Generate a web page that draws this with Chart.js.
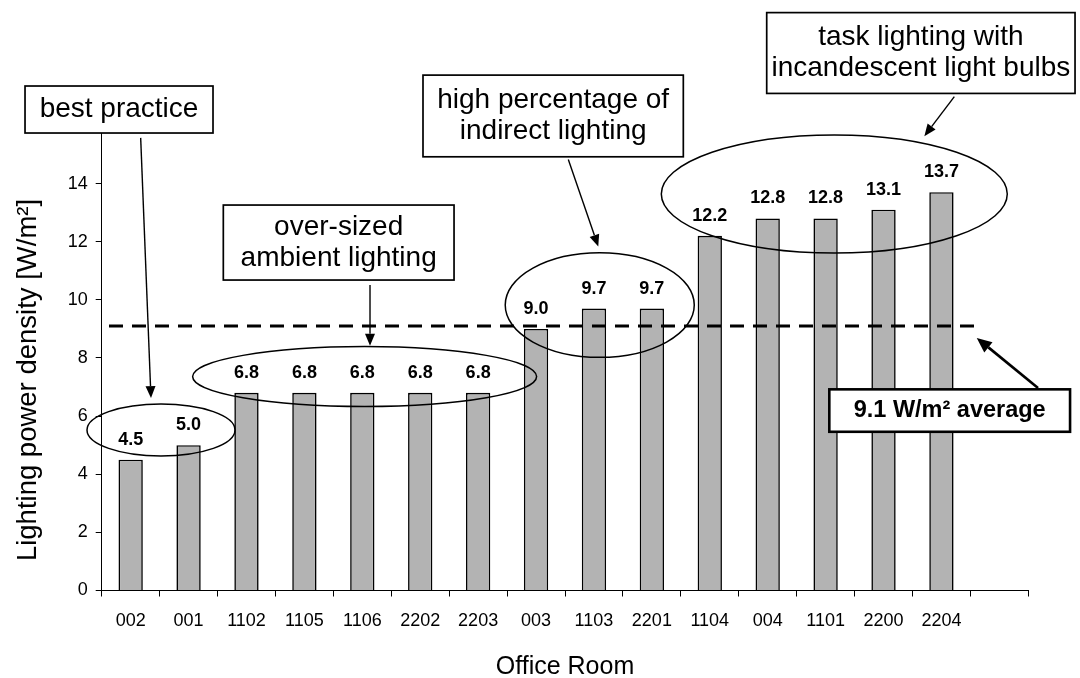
<!DOCTYPE html>
<html>
<head>
<meta charset="utf-8">
<title>Lighting power density by office room</title>
<style>
  html, body { margin: 0; padding: 0; background: #fff; }
  #wrap { width: 1080px; height: 678px; position: relative; }
</style>
<script src="https://cdn.jsdelivr.net/npm/chart.js@4.4.1/dist/chart.umd.min.js"></script>
</head>
<body>
<div id="wrap"><canvas id="chart"></canvas></div>
<script>
// Office rooms (the last slot is left empty on purpose, as on the printed axis)
const rooms = ['002', '001', '1102', '1105', '1106', '2202', '2203', '003', '1103', '2201', '1104', '004', '1101', '2200', '2204', ''];
// Lighting power density per room [W/m²]
const density = [4.5, 5.0, 6.8, 6.8, 6.8, 6.8, 6.8, 9.0, 9.7, 9.7, 12.2, 12.8, 12.8, 13.1, 13.7, null];
// Average over all rooms [W/m²]
const averageDensity = 9.1;
// Value-axis ticks
const yTicks = [0, 2, 4, 6, 8, 10, 12, 14, 16];

const FONT = '"Liberation Sans", Arial, Helvetica, sans-serif';

// Callout geometry in axis units: x = category index, y = W/m²
const groupRings = [
  { cx: 0.524, cy: 5.52, rx: 1.278, ry: 0.894 },
  { cx: 4.04,  cy: 7.36, rx: 2.97,  ry: 1.03 },
  { cx: 8.10,  cy: 9.82, rx: 1.632, ry: 1.80 },
  { cx: 12.15, cy: 13.64, rx: 2.987, ry: 2.03 }
];
const callouts = [
  { lines: ['best practice'], box: [-1.824, 17.355, 1.422, 15.738], arrow: [0.173, 15.57, 0.351, 6.62] },
  { lines: ['over-sized', 'ambient lighting'], box: [1.600, 13.26, 5.584, 10.68], arrow: [4.133, 10.51, 4.133, 8.42] },
  { lines: ['high percentage of', 'indirect lighting'], box: [5.048, 17.73, 9.543, 14.92], arrow: [7.557, 14.83, 8.075, 11.83] },
  { lines: ['task lighting with', 'incandescent light bulbs'], box: [10.983, 19.88, 16.307, 17.10], arrow: [14.223, 16.99, 13.705, 15.63] }
];
const averageLineSpan = [-0.374, 14.58];
const averageCallout = { box: [12.064, 6.92, 16.221, 5.46], arrow: [15.668, 6.97, 14.61, 8.69] };

function arrow(ctx, x1, y1, x2, y2, width, headLen, headWidth) {
  const a = Math.atan2(y2 - y1, x2 - x1);
  const bx = x2 - headLen * Math.cos(a), by = y2 - headLen * Math.sin(a);
  ctx.save();
  ctx.strokeStyle = '#000';
  ctx.fillStyle = '#000';
  ctx.lineWidth = width;
  ctx.beginPath();
  ctx.moveTo(x1, y1);
  ctx.lineTo(bx, by);
  ctx.stroke();
  ctx.beginPath();
  ctx.moveTo(x2, y2);
  ctx.lineTo(bx + headWidth / 2 * Math.sin(a), by - headWidth / 2 * Math.cos(a));
  ctx.lineTo(bx - headWidth / 2 * Math.sin(a), by + headWidth / 2 * Math.cos(a));
  ctx.closePath();
  ctx.fill();
  ctx.restore();
}

function textBox(ctx, x1, y1, x2, y2, lines, font, lineH, border) {
  ctx.save();
  ctx.fillStyle = '#fff';
  ctx.fillRect(x1, y1, x2 - x1, y2 - y1);
  ctx.strokeStyle = '#000';
  ctx.lineWidth = border;
  ctx.strokeRect(x1, y1, x2 - x1, y2 - y1);
  ctx.fillStyle = '#000';
  ctx.font = font;
  ctx.textAlign = 'center';
  ctx.textBaseline = 'middle';
  const cx = (x1 + x2) / 2, cy = (y1 + y2) / 2;
  lines.forEach((t, k) => {
    ctx.fillText(t, cx, cy + (k - (lines.length - 1) / 2) * lineH);
  });
  ctx.restore();
}

const valueLabels = {
  id: 'valueLabels',
  afterDatasetsDraw(chart) {
    const ctx = chart.ctx;
    const meta = chart.getDatasetMeta(0);
    ctx.save();
    ctx.font = 'bold 18px ' + FONT;
    ctx.fillStyle = '#000';
    ctx.textAlign = 'center';
    ctx.textBaseline = 'middle';
    meta.data.forEach((bar, i) => {
      const v = density[i];
      if (v == null) return;
      ctx.fillText(v.toFixed(1), bar.x, bar.y - 20);
    });
    ctx.restore();
  }
};

const annotations = {
  id: 'annotations',
  afterDraw(chart) {
    const ctx = chart.ctx;
    const xs = chart.scales.x, ys = chart.scales.y;
    const X = i => xs.getPixelForValue(i);
    const Y = v => ys.getPixelForValue(v);

    // average line
    ctx.save();
    ctx.strokeStyle = '#000';
    ctx.lineWidth = 3;
    ctx.setLineDash([14, 9]);
    ctx.beginPath();
    ctx.moveTo(X(averageLineSpan[0]), Y(averageDensity));
    ctx.lineTo(X(averageLineSpan[1]), Y(averageDensity));
    ctx.stroke();
    ctx.restore();

    // rings around room groups
    ctx.save();
    ctx.strokeStyle = '#000';
    ctx.lineWidth = 1.5;
    groupRings.forEach(r => {
      const cx = X(r.cx), cy = Y(r.cy);
      const rx = X(r.cx + r.rx) - cx, ry = cy - Y(r.cy + r.ry);
      ctx.beginPath();
      ctx.ellipse(cx, cy, rx, ry, 0, 0, Math.PI * 2);
      ctx.stroke();
    });
    ctx.restore();

    // callouts
    callouts.forEach(c => {
      const a = c.arrow;
      arrow(ctx, X(a[0]), Y(a[1]), X(a[2]), Y(a[3]), 1.4, 12, 10);
      const b = c.box;
      textBox(ctx, X(b[0]), Y(b[1]), X(b[2]), Y(b[3]), c.lines, '28px ' + FONT, 31.5, 1.7);
    });

    const aa = averageCallout.arrow;
    arrow(ctx, X(aa[0]), Y(aa[1]), X(aa[2]), Y(aa[3]), 2.6, 15, 13);
    const ab = averageCallout.box;
    textBox(ctx, X(ab[0]), Y(ab[1]), X(ab[2]), Y(ab[3]),
      [averageDensity.toFixed(1) + ' W/m² average'], 'bold 23.5px ' + FONT, 0, 2.6);

    // axis titles
    ctx.save();
    ctx.fillStyle = '#000';
    ctx.textAlign = 'center';
    ctx.textBaseline = 'middle';
    ctx.font = '25px ' + FONT;
    ctx.fillText('Office Room', (chart.chartArea.left + chart.chartArea.right) / 2, 667);
    ctx.translate(28, 380);
    ctx.rotate(-Math.PI / 2);
    ctx.font = '27.5px ' + FONT;
    ctx.fillText('Lighting power density [W/m²]', 0, 0);
    ctx.restore();
  }
};

new Chart(document.getElementById('chart'), {
  type: 'bar',
  data: {
    labels: rooms,
    datasets: [{
      data: density,
      backgroundColor: '#b3b3b3',
      borderColor: '#000',
      borderWidth: 1.6,
      barPercentage: 0.42,
      categoryPercentage: 1
    }]
  },
  options: {
    responsive: true,
    maintainAspectRatio: false,
    animation: false,
    layout: { padding: { left: 0, top: 125.4, right: 51.7, bottom: 0 } },
    plugins: { legend: { display: false }, tooltip: { enabled: false } },
    scales: {
      x: {
        type: 'category',
        grid: { offset: true, drawOnChartArea: false, drawTicks: true, tickLength: 6, color: '#000', lineWidth: 1 },
        border: { display: true, color: '#000', width: 1 },
        ticks: { color: '#000', font: { family: FONT, size: 18 }, padding: 14, maxRotation: 0, autoSkip: false },
        afterFit(s) { s.height = 87.5; }
      },
      y: {
        min: 0,
        max: 16,
        afterBuildTicks(s) { s.ticks = yTicks.map(v => ({ value: v })); },
        grid: { drawOnChartArea: false, drawTicks: true, tickLength: 6, color: '#000', lineWidth: 1 },
        border: { display: true, color: '#000', width: 1 },
        ticks: { color: '#000', font: { family: FONT, size: 18 }, padding: 8 },
        afterFit(s) { s.width = 101.7; }
      }
    }
  },
  plugins: [valueLabels, annotations]
});
</script>
</body>
</html>
